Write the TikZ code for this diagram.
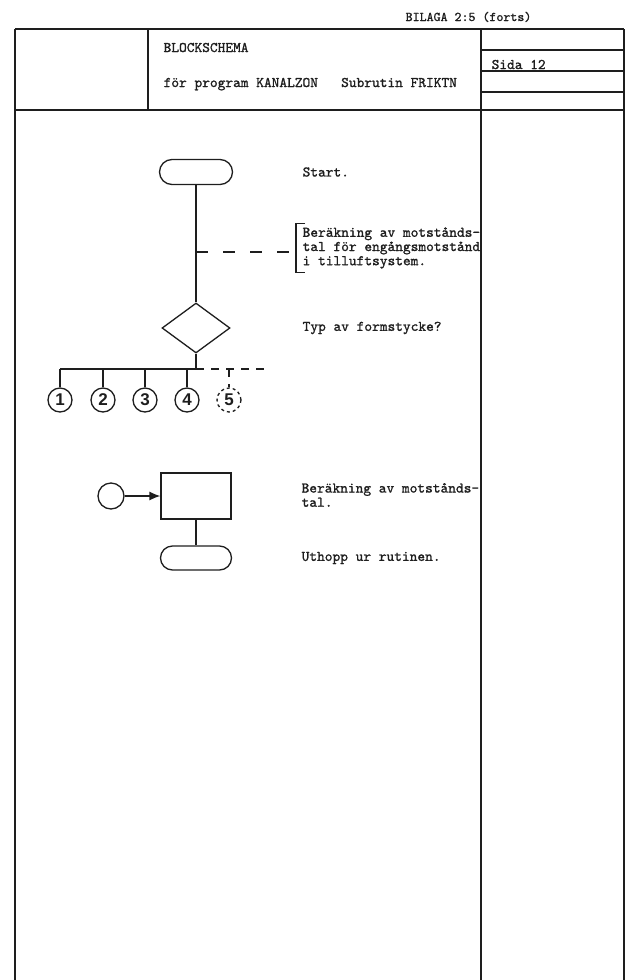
\documentclass[tikz,border=0pt]{standalone}
\usepackage{fontspec}
\setmonofont{lmmono10-regular.otf}[FakeBold=1.2]
\newfontfamily\circfont{Liberation Sans}
\usetikzlibrary{arrows.meta,positioning,calc,shapes.geometric,shapes.misc}
\definecolor{ink}{HTML}{1E1E1E}
\begin{document}
\begin{tikzpicture}[x=1pt, y=-1pt,
    >={Latex[length=11pt,width=9pt]},
    color=ink, line width=1.3pt,
    font=\ttfamily\fontsize{14.7}{14.2}\selectfont,
    term/.style={rounded rectangle, draw, minimum width=73pt,
                 minimum height=25pt, inner sep=0pt},
    proc/.style={rectangle, draw, minimum width=70pt, minimum height=46pt,
                 inner sep=0pt},
    decide/.style={diamond, draw, minimum width=68pt, minimum height=50pt,
                   inner sep=0pt},
    numc/.style={circle, draw, minimum size=24pt, inner sep=0pt,
                 font=\circfont\bfseries\fontsize{17}{17}\selectfont},
    note/.style={anchor=west, inner sep=0pt, align=left},
    gap/.style={dash pattern=on 12pt off 15pt},
    fine/.style={dash pattern=on 8pt off 7pt},
  ]
\useasboundingbox (0,0) rectangle (631,980);

% sheet frame
\draw (15,29) -- (624,29) (15,110) -- (624,110);
\draw (15,29) -- (15,980) (481,29) -- (481,980) (624,29) -- (624,980);
\draw (148,29) -- (148,110);
\draw (481,50) -- (624,50) (481,71) -- (624,71) (481,92) -- (624,92);
\node[anchor=base east, inner sep=0pt, font=\ttfamily\fontsize{13.3}{14}\selectfont]
  (bilaga) at (532,21) {BILAGA 2:5 (forts)};
\node[anchor=base west, inner sep=0pt] (title) at (163,52) {BLOCKSCHEMA};
\node[anchor=base west, inner sep=0pt] (prog) at (163,87)
  {för program KANALZON\ \ \ Subrutin FRIKTN};
\node[anchor=base west, inner sep=0pt] (sida) at (491,69) {Sida 12};

% start and note
\node[term] (start) at (196,172) {};
\node[note] (tstart) at (302,172) {Start.};
\node[note] (tcalc) at (302,248)
  {Beräkning av motstånds-\\tal för engångsmotstånd\\i tilluftsystem.};
\draw (tcalc.north west) ++(3,-3) -- ++(-9,0) coordinate (brtop)
  -- ($(brtop |- tcalc.south)+(0,3)$) -- ++(9,0);
\coordinate (tap) at (196,252);
\draw[gap] (tap) -- (brtop |- tap);

% decision
\node[decide] (dec) at (196,328) {};
\node[note] (tdec) at (302,328) {Typ av formstycke?};
\draw (start) -- (dec);

% branches
\coordinate (bus) at (196,369);
\foreach \i/\x in {1/60,2/103,3/145,4/187}{
  \node[numc] (c\i) at (\x,400) {\i};
  \draw (c\i |- bus) -- (c\i);
}
\node[numc, dashed] (c5) at (229,400) {5};
\draw (dec) -- (bus) -- (c1 |- bus);
\draw[fine] (bus) -- ++(74,0) coordinate (busend);
\draw[fine] (c5 |- bus) -- (c5);

% calculation and exit
\node[proc] (calc) at (196,496) {};
\node[circle, draw, minimum size=26pt, inner sep=0pt] (con) at (111,496) {};
\draw[->] (con) -- (calc);
\node[note] (tcalc2) at (301,495) {Beräkning av motstånds-\\tal.};
\node[term, minimum width=71pt, minimum height=24pt] (stop) at (196,558) {};
\node[note] (tstop) at (301,558) {Uthopp ur rutinen.};
\draw (calc) -- (stop);

\end{tikzpicture}
\end{document}
